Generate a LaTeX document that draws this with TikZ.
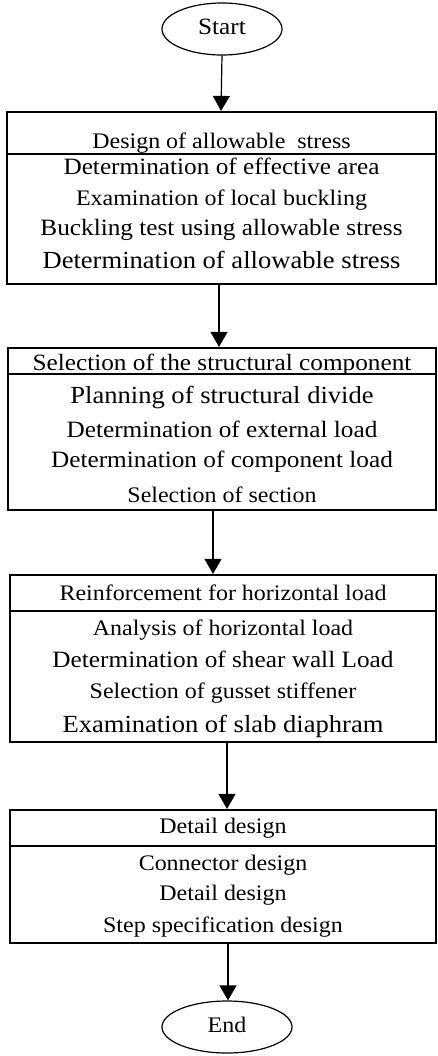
\documentclass[tikz,border=0pt]{standalone}
\usepackage{fontspec}
\setmainfont{Liberation Serif}[FakeStretch=1.08]
\usetikzlibrary{shapes.geometric}
\usetikzlibrary{arrows.meta}

\begin{document}
\begin{tikzpicture}[x=0.5pt, y=-0.5pt,
    stagebox/.style={rectangle, draw=black, line width=1.1pt, inner sep=0pt},
    terminal/.style={ellipse, draw=black, line width=0.6pt, inner sep=0pt, minimum width=60pt, minimum height=26pt},
    stagetext/.style={inner sep=0pt, text height=8pt, text depth=2.5pt},
    fsmall/.style={stagetext, font=\fontsize{11.1}{13}\selectfont},
    fmid/.style={stagetext, font=\fontsize{11.7}{14}\selectfont},
    flarge/.style={stagetext, font=\fontsize{12.3}{15}\selectfont},
    divider/.style={line width=0.8pt},
    flow/.style={line width=0.6pt, -{Triangle[length=7.5pt, width=8.5pt]}}]
    \useasboundingbox (0,0) rectangle (438,1056);

    \node [terminal, fmid] (start) at (222,29) {Start};

    \node [stagebox, minimum width=214.5pt, minimum height=86pt] (allowbox) at (221.5,198) {};
    \draw [divider] ([yshift=-21.5pt]allowbox.north west) -- ([yshift=-21.5pt]allowbox.north east);
    \node [fsmall] (allowhead) at (221.5,143) {Design of allowable\ \ stress};
    \node [fmid] (allow1) at (221.5,169) {Determination of effective area};
    \node [fsmall] (allow2) at (221.5,200) {Examination of local buckling};
    \node [fmid] (allow3) at (221.5,230) {Buckling test using allowable stress};
    \node [flarge] (allow4) at (221.5,263) {Determination of allowable stress};

    \node [stagebox, minimum width=214pt, minimum height=81pt] (selbox) at (222,429) {};
    \draw [divider] ([yshift=-13.5pt]selbox.north west) -- ([yshift=-13.5pt]selbox.north east);
    \node [fmid] (selhead) at (222,365) {Selection of the structural component};
    \node [flarge] (sel1) at (222,398) {Planning of structural divide};
    \node [fmid] (sel2) at (222,432) {Determination of external load};
    \node [fmid] (sel3) at (222,462) {Determination of component load};
    \node [fsmall] (sel4) at (222,497) {Selection of section};

    \node [stagebox, minimum width=213pt, minimum height=83.5pt] (reinbox) at (223,658.5) {};
    \draw [divider] ([yshift=-18.5pt]reinbox.north west) -- ([yshift=-18.5pt]reinbox.north east);
    \node [fsmall] (reinhead) at (223,595) {Reinforcement for horizontal load};
    \node [fsmall] (rein1) at (223,630) {Analysis of horizontal load};
    \node [fmid] (rein2) at (223,662) {Determination of shear wall Load};
    \node [fsmall] (rein3) at (223,693) {Selection of gusset stiffener};
    \node [flarge] (rein4) at (223,727) {Examination of slab diaphram};

    \node [stagebox, minimum width=213pt, minimum height=66.5pt] (detbox) at (223,876.5) {};
    \draw [divider] ([yshift=-18.5pt]detbox.north west) -- ([yshift=-18.5pt]detbox.north east);
    \node [fsmall] (dethead) at (223,828) {Detail design};
    \node [fsmall] (det1) at (223,865) {Connector design};
    \node [fsmall] (det2) at (223,895) {Detail design};
    \node [fsmall] (det3) at (223,927) {Step specification design};

    \node [terminal, fsmall, minimum width=65pt] (end) at (227,1027) {End};

    \draw [flow] (start.south) -- ([xshift=-0.25pt]allowbox.north);
    \draw [flow] ([xshift=-1.25pt]allowbox.south) -- ([xshift=-1.5pt]selbox.north);
    \draw [flow] ([xshift=-4.5pt]selbox.south) -- ([xshift=-5pt]reinbox.north);
    \draw [flow] ([xshift=2pt]reinbox.south) -- ([xshift=2pt]detbox.north);
    \draw [flow] ([xshift=2.5pt]detbox.south) -- ([xshift=0.5pt]end.north);
\end{tikzpicture}
\end{document}
